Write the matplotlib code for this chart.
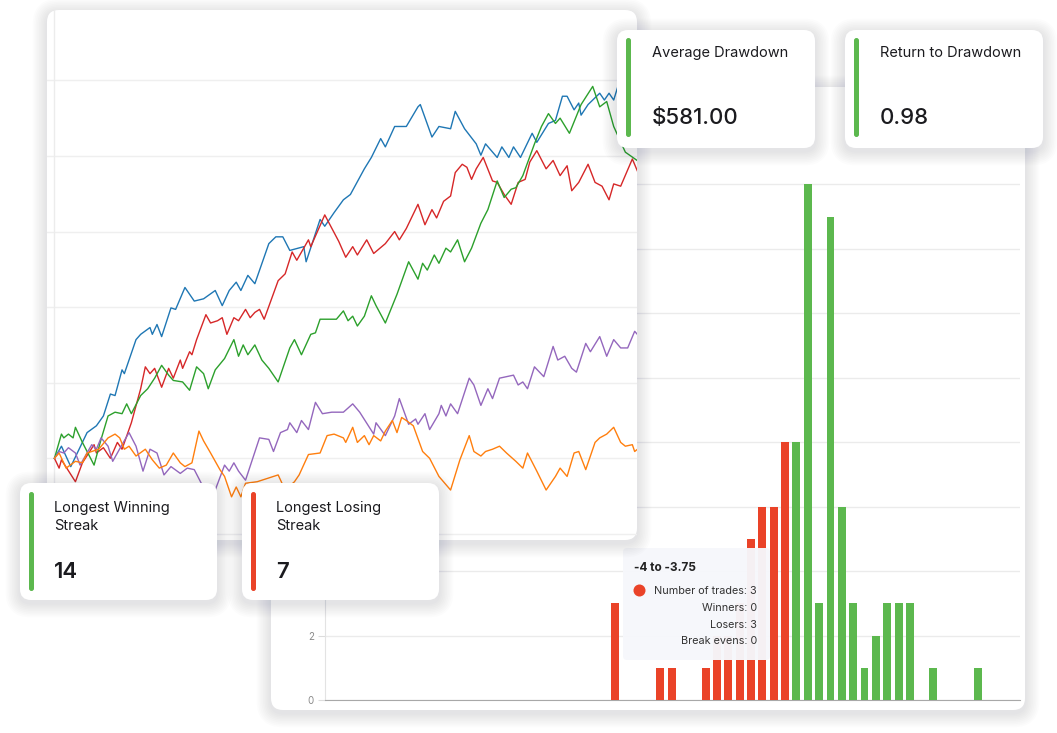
"""Trading dashboard collage: equity curves, P/L histogram and stat cards."""

import matplotlib
matplotlib.use("Agg")
import matplotlib.pyplot as plt
from matplotlib.patches import FancyBboxPatch, Circle

plt.rcParams["font.family"] = ["Inter", "DejaVu Sans"]

W, H = 1057, 733

# --------------------------------------------------------------------------- #
# Data                                                   #
# --------------------------------------------------------------------------- #
# equity curves: (trade number, cumulative P/L in $)
BLUE = [(0, 0), (3, 160), (7, -110), (14, 340), (18, 430), (21, 560), (24, 850), (26, 830),
        (29, 1170), (30, 1120), (35, 1570), (37, 1640), (41, 1730), (42, 1640), (44, 1770),
        (46, 1610), (50, 1990), (52, 1970), (56, 2260), (60, 2080), (64, 2110), (69, 2220),
        (72, 2020), (75, 2220), (78, 2330), (80, 2220), (83, 2420), (86, 2310), (92, 2840),
        (95, 2930), (98, 2930), (101, 2750), (107, 2800), (108, 2600), (114, 3160), (116, 3070),
        (120, 3250), (124, 3420), (127, 3490), (133, 3830), (136, 3980), (140, 4230), (142, 4120),
        (146, 4390), (151, 4390), (156, 4650), (157, 4680), (162, 4250), (165, 4390), (170, 4360),
        (172, 4590), (176, 4360), (181, 4160), (183, 4010), (185, 4160), (190, 3980), (192, 4120),
        (195, 3980), (197, 4120), (200, 3980), (205, 4300), (207, 4180), (212, 4430), (215, 4470),
        (218, 4790), (220, 4790), (223, 4610), (225, 4700), (226, 4540), (229, 4680), (234, 4830),
        (236, 4740), (238, 4830), (240, 4740), (242, 4940), (247, 5030), (251, 5080)]
RED = [(0, 0), (2, -130), (3, -20), (9, -310), (12, -60), (17, 180), (18, 70), (21, 140), (24, 0),
       (27, 210), (29, 120), (33, 470), (37, 920), (39, 1210), (41, 1120), (43, 1190), (46, 940),
       (49, 1190), (51, 1060), (54, 1300), (55, 1190), (58, 1410), (59, 1370), (61, 1570),
       (65, 1900), (67, 1790), (70, 1820), (72, 1860), (74, 1640), (77, 1860), (79, 1820),
       (82, 1970), (84, 1860), (86, 1930), (88, 1970), (90, 1840), (96, 2350), (99, 2440),
       (102, 2730), (104, 2620), (109, 2890), (110, 2800), (116, 3220), (122, 2870), (125, 2660),
       (128, 2800), (130, 2690), (134, 2890), (137, 2710), (142, 2840), (146, 3000), (148, 2890),
       (151, 3040), (156, 3360), (159, 3090), (162, 3290), (164, 3180), (167, 3400), (170, 3470),
       (172, 3780), (175, 3890), (177, 3850), (179, 3690), (181, 3830), (184, 3980), (188, 3670),
       (190, 3650), (193, 3490), (196, 3360), (199, 3650), (202, 3690), (204, 3920), (207, 4070),
       (211, 3830), (214, 3940), (217, 3740), (220, 3870), (222, 3540), (225, 3650), (229, 3890),
       (232, 3650), (235, 3600), (238, 3420), (240, 3630), (243, 3600), (248, 3960), (251, 3740)]
GREEN = [(0, 0), (3, 320), (4, 270), (6, 320), (8, 270), (9, 410), (12, 210), (17, -90), (20, 250),
         (23, 560), (26, 610), (29, 590), (31, 720), (33, 590), (37, 830), (40, 920), (43, 1060),
         (46, 1230), (49, 1100), (51, 1030), (55, 1010), (58, 900), (61, 1210), (64, 1120),
         (66, 920), (69, 1170), (73, 1320), (77, 1570), (79, 1350), (81, 1500), (83, 1370),
         (86, 1500), (89, 1300), (92, 1190), (96, 1010), (101, 1460), (103, 1570), (106, 1370),
         (110, 1640), (112, 1660), (114, 1840), (121, 1840), (124, 1950), (126, 1820), (128, 1880),
         (130, 1750), (133, 1880), (136, 2150), (138, 2020), (142, 1790), (147, 2170), (152, 2600),
         (156, 2370), (158, 2580), (160, 2490), (163, 2690), (165, 2580), (168, 2780), (170, 2730),
         (173, 2890), (176, 2600), (179, 2780), (183, 3110), (186, 3290), (190, 3670), (193, 3450),
         (196, 3560), (198, 3580), (201, 3740), (206, 4160), (209, 4390), (212, 4560), (215, 4430),
         (217, 4500), (221, 4300), (226, 4680), (231, 4920), (234, 4650), (237, 4720), (240, 4390),
         (245, 4050), (251, 3920)]
PURPLE = [(0, 0), (2, 90), (4, 70), (6, 140), (9, 70), (11, -90), (16, 180), (18, 120), (20, 270),
          (23, 160), (25, -40), (27, 70), (29, 180), (32, 340), (35, 160), (38, -170), (41, 120),
          (44, 70), (47, -220), (50, -110), (54, -200), (57, -130), (60, -150), (63, -330),
          (67, -580), (69, -420), (73, -90), (75, -170), (77, -60), (79, -170), (82, -290),
          (88, 270), (92, 250), (94, 90), (97, 340), (100, 380), (101, 470), (104, 340), (106, 500),
          (109, 380), (112, 740), (115, 590), (119, 610), (124, 610), (128, 720), (131, 610),
          (137, 320), (138, 470), (142, 300), (146, 560), (148, 790), (152, 450), (155, 520),
          (156, 450), (159, 590), (161, 380), (165, 590), (166, 700), (168, 560), (170, 720),
          (173, 590), (178, 1060), (180, 970), (183, 700), (186, 920), (188, 790), (191, 1060),
          (197, 1100), (199, 970), (201, 1010), (203, 920), (206, 1210), (210, 1080), (214, 1480),
          (216, 1300), (219, 1350), (222, 1190), (224, 1140), (228, 1520), (230, 1410), (234, 1610),
          (237, 1350), (240, 1570), (243, 1460), (246, 1460), (249, 1680), (251, 1610)]
ORANGE = [(0, 0), (2, 70), (5, -130), (9, -40), (12, -60), (14, 70), (19, 120), (23, 270), (26, 320),
          (28, 270), (30, 120), (32, 160), (35, 30), (39, 120), (42, -20), (45, -130), (48, -90),
          (51, 70), (54, -60), (56, -110), (59, -60), (62, 360), (64, 230), (67, 70), (71, -150),
          (73, -240), (76, -510), (78, -380), (80, -510), (82, -330), (87, -310), (96, -220),
          (99, -420), (103, -310), (105, -220), (109, 50), (114, 70), (117, 300), (120, 320),
          (124, 270), (125, 210), (128, 410), (130, 210), (133, 300), (135, 180), (137, 300),
          (140, 230), (142, 360), (145, 500), (147, 340), (149, 540), (151, 500), (154, 430),
          (158, 90), (161, 0), (165, -240), (170, -420), (174, -20), (178, 300), (180, 90), (183, 30),
          (185, 90), (188, 120), (191, 160), (194, 70), (198, -40), (201, -130), (203, 70),
          (207, -170), (211, -420), (215, -240), (217, -130), (220, -240), (223, 70), (225, 90),
          (228, -150), (232, 210), (234, 270), (237, 320), (240, 410), (243, 210), (245, 160),
          (248, 180), (249, 90), (251, 140)]
CURVES = [("tab:blue", BLUE), ("tab:red", RED), ("tab:green", GREEN),
          ("tab:purple", PURPLE), ("tab:orange", ORANGE)]

# histogram of trade results (R multiples), bin lower edges, width 0.25
LOSS_BINS = [-4.0, -3.0, -2.75, -2.0, -1.75, -1.5, -1.25, -1.0, -0.75, -0.5, -0.25]
LOSS_COUNTS = [3, 1, 1, 1, 2, 2, 3, 5, 6, 6, 8]
WIN_BINS = [0.0, 0.25, 0.5, 0.75, 1.0, 1.25, 1.5, 1.75, 2.0, 2.25, 2.5, 3.0, 4.0]
WIN_COUNTS = [8, 16, 3, 15, 6, 3, 1, 2, 3, 3, 3, 1, 1]
BIN_W = 0.25
Y_TICKS = [0, 2, 4, 6, 8, 10, 12, 14, 16]
Y_LABELS = ["0", "2"]          # the others sit behind the overlapping cards

# stat cards
STATS_TOP = [("Average Drawdown", "$581.00"), ("Return to Drawdown", "0.98")]
STATS_BOTTOM = [(["Longest Winning", "Streak"], "14"), (["Longest Losing", "Streak"], "7")]

TOOLTIP_TITLE = "-4 to -3.75"
TOOLTIP_ROWS = ["Number of trades: 3", "Winners: 0", "Losers: 3", "Break evens: 0"]

RED_C = "#ea4328"
GREEN_C = "#5cb84e"
TEXT_C = "#1b1b1f"

# --------------------------------------------------------------------------- #
fig = plt.figure(figsize=(W / 100, H / 100), dpi=100)
fig.patch.set_facecolor("white")


def px_axes(z):
    ax = fig.add_axes([0, 0, 1, 1])
    ax.set_xlim(0, W)
    ax.set_ylim(H, 0)
    ax.axis("off")
    ax.patch.set_visible(False)
    ax.set_zorder(z)
    return ax


def frac(x0, y0, x1, y1):
    return [x0 / W, 1 - y1 / H, (x1 - x0) / W, (y1 - y0) / H]


def card(ax, x0, y0, x1, y1, r=11):
    w, h = x1 - x0, y1 - y0
    for i in range(1, 10):
        p = i * 1.6
        ax.add_patch(FancyBboxPatch((x0, y0 + 3), w, h,
                                    boxstyle=f"round,pad={p},rounding_size={r + p}",
                                    fc="#1c2840", ec="none", alpha=0.011))
    ax.add_patch(FancyBboxPatch((x0, y0), w, h, boxstyle=f"round,pad=0,rounding_size={r}",
                                fc="white", ec="none"))


def accent(ax, x, y0, y1, color):
    ax.add_patch(FancyBboxPatch((x, y0), 5, y1 - y0, boxstyle="round,pad=0,rounding_size=2.5",
                                fc=color, ec="none"))


# ---- histogram card ------------------------------------------------------- #
bg0 = px_axes(0)
card(bg0, 271, 87, 1025, 710, r=12)

hx = fig.add_axes(frac(325, 136, 1020, 700))
hx.set_zorder(1)
hx.patch.set_visible(False)
hx.bar([b + BIN_W / 2 for b in LOSS_BINS], LOSS_COUNTS, width=BIN_W * 0.7, color=RED_C, zorder=3)
hx.bar([b + BIN_W / 2 for b in WIN_BINS], WIN_COUNTS, width=BIN_W * 0.7, color=GREEN_C, zorder=3)
hx.set_xlim(-10.26, 5.05)
hx.set_ylim(0, 17.5)
hx.set_yticks(Y_TICKS)
hx.set_yticklabels(Y_LABELS + [""] * (len(Y_TICKS) - len(Y_LABELS)))
hx.set_xticks([])
hx.grid(axis="y", color="#ebebeb", lw=1)
hx.set_axisbelow(True)
hx.tick_params(axis="y", labelsize=7, labelcolor="#8a8a8a", color="#dcdcdc",
               length=5, width=0.8, pad=3)
for s in ("top", "right"):
    hx.spines[s].set_visible(False)
hx.spines["left"].set_color("#e3e3e3")
hx.spines["bottom"].set_color("#a8a8a8")

# tooltip
tip = px_axes(2)
tip.add_patch(FancyBboxPatch((623, 548), 147, 112, boxstyle="round,pad=0,rounding_size=4",
                             fc="#f6f7fb", ec="none", alpha=0.97))
tip.text(634, 571, TOOLTIP_TITLE, fontsize=8.5, fontweight="bold", color="#222", va="baseline")
tip.add_patch(Circle((639.5, 590.5), 6, fc=RED_C, ec="none"))
for i, row in enumerate(TOOLTIP_ROWS):
    tip.text(757, 594 + i * 16.8, row, fontsize=7.8, color="#333", ha="right", va="baseline")

# ---- equity curve card ---------------------------------------------------- #
bg1 = px_axes(3)
card(bg1, 47, 10, 637, 540, r=12)

lx = fig.add_axes(frac(47, 10, 637, 540))
lx.set_zorder(4)
lx.patch.set_visible(False)
for color, pts in CURVES:
    xs = [p[0] for p in pts]
    ys = [p[1] for p in pts]
    lx.plot(xs, ys, color=color, lw=1.0, zorder=3)
lx.set_xlim(-3.2, 250)
lx.set_ylim(-1081, 5931)
lx.set_yticks(range(-1000, 5001, 1000))
lx.set_xticks([])
lx.grid(axis="y", color="#efefef", lw=1)
lx.axvline(0, color="#ececec", lw=1, zorder=1)
lx.set_axisbelow(True)
lx.tick_params(length=0, labelleft=False)
for s in lx.spines.values():
    s.set_visible(False)

# ---- stat cards ----------------------------------------------------------- #
top = px_axes(5)
for (title, value), x0 in zip(STATS_TOP, [617, 845]):
    card(top, x0, 30, x0 + 198, 148, r=11)
    accent(top, x0 + 9, 38, 137, GREEN_C)
    top.text(x0 + 35, 57, title, fontsize=10.5, color=TEXT_C, va="baseline")
    top.text(x0 + 35, 124, value, fontsize=16, fontweight="medium", color=TEXT_C, va="baseline")

for (lines, value), x0, col in zip(STATS_BOTTOM, [20, 242], [GREEN_C, RED_C]):
    card(top, x0, 483, x0 + 197, 600, r=11)
    accent(top, x0 + 9, 492, 591, col)
    for i, ln in enumerate(lines):
        top.text(x0 + 34, 512 + i * 18.5, ln, fontsize=10.5, color=TEXT_C, va="baseline")
    top.text(x0 + 34, 578, value, fontsize=16, fontweight="semibold", color=TEXT_C, va="baseline")

fig.savefig("out.png", dpi=100, facecolor="white")
